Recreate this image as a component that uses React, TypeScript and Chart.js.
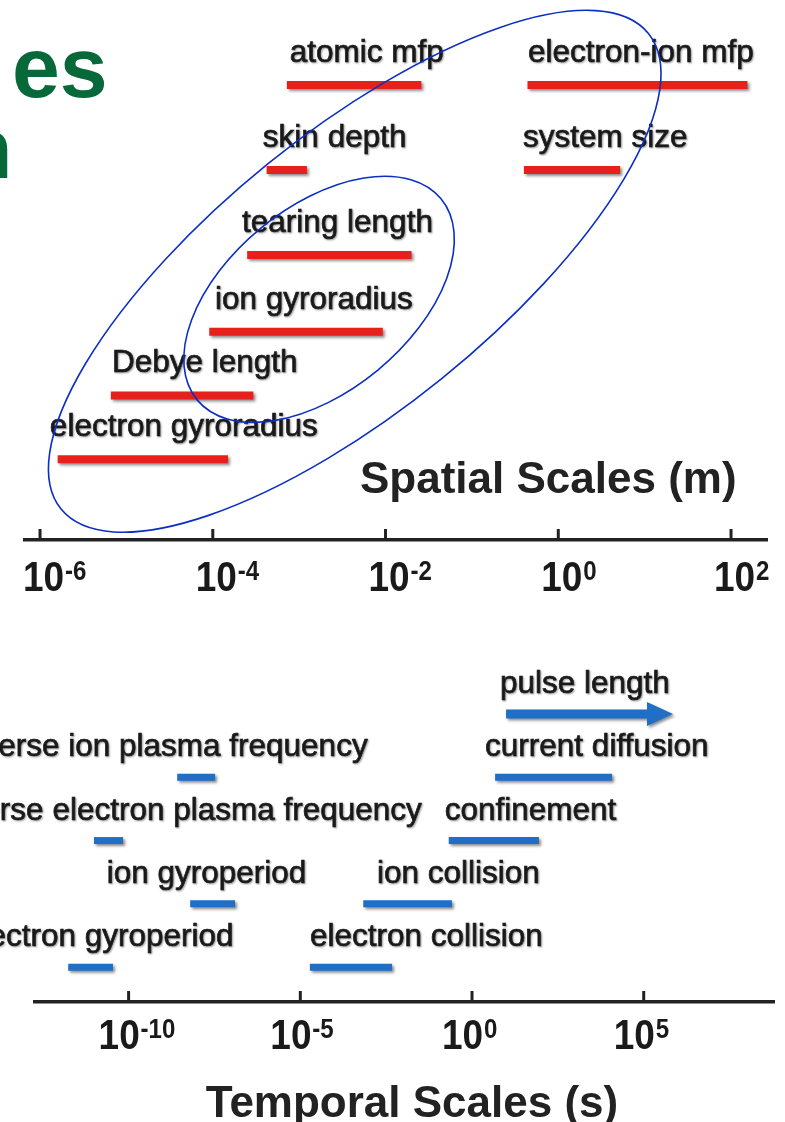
import { useEffect, useRef } from "react";
import { Chart, registerables } from "chart.js";

Chart.register(...registerables);

const FONT = '"Liberation Sans", Arial, Helvetica, sans-serif';

// ---- Spatial scales (m): each quantity spans [low, high] on its own row ----
const spatialNames = [
  "atomic mfp",
  "electron-ion mfp",
  "skin depth",
  "system size",
  "tearing length",
  "ion gyroradius",
  "Debye length",
  "electron gyroradius",
];
const spatialLow = [7.2e-4, 4.4e-1, 4.2e-4, 4.0e-1, 2.5e-4, 9.1e-5, 6.6e-6, 1.6e-6];
const spatialHigh = [2.6e-2, 1.55e2, 1.23e-3, 5.2, 2.0e-2, 9.3e-3, 2.95e-4, 1.5e-4];
const spatialRows = [1, 1, 2, 2, 3, 3.9, 4.65, 5.4];
// where each caption starts along the length axis (m)
const spatialLabelAt = [7.8e-4, 4.45e-1, 3.8e-4, 3.9e-1, 2.18e-4, 1.06e-4, 6.8e-6, 1.3e-6];
const spatialTicks = [1e-6, 1e-4, 1e-2, 1, 1e2];

// groupings drawn as rings: centre (m, row), semi-axes in decades, tilt in degrees
const ringCentreX = [4.4e-3, 1.7e-3];
const ringCentreRow = [3.19, 3.52];
const ringMajor = [4.375, 1.83];
const ringMinor = [1.6, 1.065];
const ringTilt = [-39, -39.5];

// ---- Temporal scales (s) ----
const temporalNames = [
  "pulse length",
  "current diffusion",
  "inverse ion plasma frequency",
  "confinement",
  "inverse electron plasma frequency",
  "ion gyroperiod",
  "ion collision",
  "electron gyroperiod",
  "electron collision",
];
const temporalLow = [9.8, 4.7, 2.6e-9, 0.21, 9.8e-12, 6.2e-9, 6.8e-4, 1.74e-12, 1.9e-5];
const temporalHigh = [7.1e5, 1.2e4, 3.3e-8, 89, 6.9e-11, 1.26e-7, 0.26, 3.5e-11, 4.7e-3];
const temporalRows = [1, 2, 2, 3, 3, 4, 4, 5, 5];
// where each caption starts along the time axis (s)
const temporalLabelAt = [6.5, 2.4, 1.07e-15, 0.16, 3.7e-16, 2.3e-11, 1.7e-3, 1.6e-15, 1.9e-5];
const temporalOpenEnded = [true, false, false, false, false, false, false, false, false];
const temporalTicks = [1e-10, 1e-5, 1, 1e5];

type Spec = {
  names: string[];
  low: number[];
  high: number[];
  rows: number[];
  labelAt: number[];
  arrows: boolean[];
  ticks: number[];
  color: string;
  barWidth: number;
  xMin: number;
  xMax: number;
  yMin: number;
  yMax: number;
  padLeft: number;
  padRight: number;
  axisHeight: number;
  tickShift: number;
  tickBaseline: number;
  labelRise: number;
  title: { text: string; x: number; y: number; align: CanvasTextAlign };
  rings: boolean;
  heading: boolean;
};

function setShadow(ctx: CanvasRenderingContext2D, alpha: number, blur: number, dx: number, dy: number) {
  ctx.shadowColor = `rgba(0,0,0,${alpha})`;
  ctx.shadowBlur = blur;
  ctx.shadowOffsetX = dx;
  ctx.shadowOffsetY = dy;
}

function decorPlugin(spec: Spec) {
  return {
    id: "rangeDecor",
    beforeDatasetsDraw(chart: any) {
      const ctx = chart.ctx;
      ctx.save();
      setShadow(ctx, 0.45, 3, 2, 2);
    },
    afterDatasetsDraw(chart: any) {
      const ctx = chart.ctx;
      ctx.restore();
      // open-ended ranges get an arrow
      spec.arrows.forEach((isArrow, i) => {
        if (!isArrow) return;
        const pts = chart.getDatasetMeta(i).data;
        const x0 = pts[0].x;
        const x1 = pts[1].x;
        const y = pts[0].y;
        const head = 26;
        ctx.save();
        setShadow(ctx, 0.45, 3, 2, 2);
        ctx.fillStyle = spec.color;
        ctx.beginPath();
        ctx.moveTo(x0, y - 4.5);
        ctx.lineTo(x1 - head, y - 4.5);
        ctx.lineTo(x1 - head, y - 12);
        ctx.lineTo(x1, y);
        ctx.lineTo(x1 - head, y + 12);
        ctx.lineTo(x1 - head, y + 4.5);
        ctx.lineTo(x0, y + 4.5);
        ctx.closePath();
        ctx.fill();
        ctx.restore();
      });
    },
    afterDraw(chart: any) {
      const ctx = chart.ctx;
      const xs = chart.scales.x;
      const ys = chart.scales.y;
      const axisY = xs.top;

      // tick marks pointing up from the axis, with 10^n labels
      ctx.save();
      ctx.strokeStyle = "#222";
      ctx.fillStyle = "#1a1a1a";
      ctx.lineWidth = 3;
      xs.ticks.forEach((t: any) => {
        const px = xs.getPixelForValue(t.value);
        ctx.beginPath();
        ctx.moveTo(px, axisY - 11);
        ctx.lineTo(px, axisY);
        ctx.stroke();
        const exp = String(Math.round(Math.log10(t.value)));
        const left = px + spec.tickShift;
        const base = axisY + spec.tickBaseline;
        ctx.save();
        ctx.translate(left, base);
        ctx.scale(0.86, 1);
        ctx.font = `bold 43px ${FONT}`;
        ctx.textAlign = "left";
        ctx.textBaseline = "alphabetic";
        ctx.fillText("10", 0, 0);
        const w = ctx.measureText("10").width;
        ctx.font = `bold 28px ${FONT}`;
        ctx.fillText(exp, w + 1, -11);
        ctx.restore();
      });
      ctx.restore();

      // captions above each range
      ctx.save();
      ctx.font = `31.5px ${FONT}`;
      ctx.fillStyle = "#1c1c1c";
      ctx.strokeStyle = "#1c1c1c";
      ctx.lineWidth = 0.7;
      ctx.textAlign = "left";
      ctx.textBaseline = "alphabetic";
      setShadow(ctx, 0.35, 2, 1, 1);
      spec.names.forEach((name, i) => {
        const px = xs.getPixelForValue(spec.labelAt[i]);
        const py = ys.getPixelForValue(spec.rows[i]) - spec.labelRise;
        ctx.fillText(name, px, py);
        ctx.strokeText(name, px, py);
      });
      ctx.restore();

      // axis title
      ctx.save();
      ctx.font = `bold 44px ${FONT}`;
      ctx.fillStyle = "#222";
      ctx.textAlign = spec.title.align;
      ctx.textBaseline = "alphabetic";
      ctx.fillText(spec.title.text, spec.title.x, spec.title.y);
      ctx.restore();

      // slide heading fragment at the top-left
      if (spec.heading) {
        ctx.save();
        ctx.font = `bold 86px ${FONT}`;
        ctx.fillStyle = "#07693a";
        ctx.textAlign = "left";
        ctx.fillText("es", 12, 97);
        ctx.fillText("n", -40, 178);
        ctx.restore();
      }

      // rings grouping related scales
      if (spec.rings) {
        const ppd = xs.getPixelForValue(10) - xs.getPixelForValue(1);
        ctx.save();
        ctx.strokeStyle = "#0b2fc4";
        ctx.lineWidth = 1.6;
        ringCentreX.forEach((cxv, i) => {
          const cx = xs.getPixelForValue(cxv);
          const cy = ys.getPixelForValue(ringCentreRow[i]);
          ctx.beginPath();
          ctx.ellipse(
            cx,
            cy,
            ringMajor[i] * ppd,
            ringMinor[i] * ppd,
            (ringTilt[i] * Math.PI) / 180,
            0,
            Math.PI * 2
          );
          ctx.stroke();
        });
        ctx.restore();
      }
    },
  };
}

function buildChart(canvas: HTMLCanvasElement, spec: Spec) {
  const datasets = spec.names.map((name, i) => ({
    label: name,
    data: [
      { x: spec.low[i], y: spec.rows[i] },
      { x: spec.high[i], y: spec.rows[i] },
    ],
    borderColor: spec.color,
    borderWidth: spec.barWidth,
    borderCapStyle: "butt" as const,
    pointRadius: 0,
    showLine: !spec.arrows[i],
    clip: false as const,
  }));
  return new Chart(canvas, {
    type: "line",
    data: { datasets },
    options: {
      animation: false,
      responsive: false,
      devicePixelRatio: 1,
      events: [],
      layout: { padding: { left: spec.padLeft, right: spec.padRight, top: 0, bottom: 0 } },
      plugins: { legend: { display: false }, tooltip: { enabled: false } },
      scales: {
        x: {
          type: "logarithmic",
          min: spec.xMin,
          max: spec.xMax,
          afterBuildTicks: (s: any) => {
            s.ticks = spec.ticks.map((v) => ({ value: v }));
          },
          afterFit: (s: any) => {
            s.height = spec.axisHeight;
          },
          ticks: { display: false },
          grid: { display: true, drawOnChartArea: false, drawTicks: false, lineWidth: 0 },
          border: { display: true, color: "#222", width: 3.5 },
        },
        y: {
          type: "linear",
          display: false,
          reverse: true,
          min: spec.yMin,
          max: spec.yMax,
        },
      },
    },
    plugins: [decorPlugin(spec)],
  });
}

const spatialSpec: Spec = {
  names: spatialNames,
  low: spatialLow,
  high: spatialHigh,
  rows: spatialRows,
  labelAt: spatialLabelAt,
  arrows: spatialNames.map(() => false),
  ticks: spatialTicks,
  color: "#e8201c",
  barWidth: 8,
  xMin: Math.pow(10, -6.174),
  xMax: Math.pow(10, 2.428),
  yMin: 0,
  yMax: 6.35,
  padLeft: 25,
  padRight: 17,
  axisHeight: 60,
  tickShift: -17,
  tickBaseline: 51,
  labelRise: 23,
  title: { text: "Spatial Scales (m)", x: 360, y: 493, align: "left" },
  rings: true,
  heading: true,
};

const temporalSpec: Spec = {
  names: temporalNames,
  low: temporalLow,
  high: temporalHigh,
  rows: temporalRows,
  labelAt: temporalLabelAt,
  arrows: temporalOpenEnded,
  ticks: temporalTicks,
  color: "#1f6fc6",
  barWidth: 7,
  xMin: Math.pow(10, -12.726),
  xMax: Math.pow(10, 8.823),
  yMin: -0.8,
  yMax: 5.55,
  padLeft: 35,
  padRight: 10,
  axisHeight: 120,
  tickShift: -30,
  tickBaseline: 47,
  labelRise: 21,
  title: { text: "Temporal Scales (s)", x: 412, y: 517, align: "center" },
  rings: false,
  heading: false,
};

export default function App() {
  const topRef = useRef<HTMLCanvasElement>(null);
  const bottomRef = useRef<HTMLCanvasElement>(null);

  useEffect(() => {
    const spatial = buildChart(topRef.current!, spatialSpec);
    const temporal = buildChart(bottomRef.current!, temporalSpec);
    return () => {
      spatial.destroy();
      temporal.destroy();
    };
  }, []);

  return (
    <div
      style={{
        position: "absolute",
        left: 0,
        top: 0,
        width: 785,
        height: 1122,
        background: "#fff",
        overflow: "hidden",
      }}
    >
      <canvas
        ref={topRef}
        width={785}
        height={600}
        style={{ position: "absolute", left: 0, top: 0, width: 785, height: 600 }}
      />
      <canvas
        ref={bottomRef}
        width={785}
        height={522}
        style={{ position: "absolute", left: 0, top: 600, width: 785, height: 522 }}
      />
    </div>
  );
}
